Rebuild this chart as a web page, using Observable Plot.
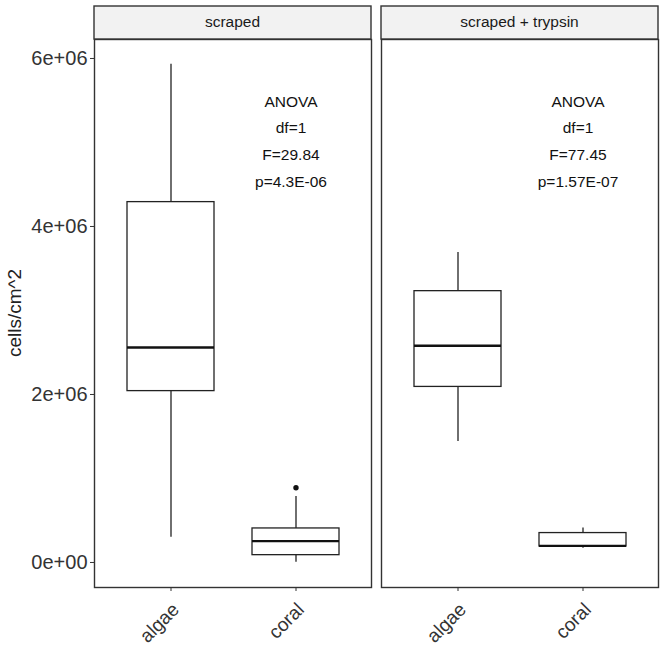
<!DOCTYPE html>
<html>
<head>
<meta charset="utf-8">
<script src="https://cdn.jsdelivr.net/npm/d3@7"></script>
<script src="https://cdn.jsdelivr.net/npm/@observablehq/plot@0.6"></script>
<style>
  body { margin: 0; background: #fff; }
  svg { display: block; }
</style>
</head>
<body>
<div id="chart"></div>
<script>
// ---- data ----
const treatments = ["scraped", "scraped + trypsin"];
const groups = ["algae", "coral"];

const boxTreatment = ["scraped", "scraped", "scraped + trypsin", "scraped + trypsin"];
const boxGroup     = ["algae", "coral", "algae", "coral"];
const whiskerLow   = [0.30e6, 0.004e6, 1.44e6, 0.17e6];
const q1           = [2.04e6, 0.087e6, 2.09e6, 0.19e6];
const median       = [2.56e6, 0.254e6, 2.58e6, 0.198e6];
const q3           = [4.29e6, 0.405e6, 3.23e6, 0.35e6];
const whiskerHigh  = [5.93e6, 0.786e6, 3.69e6, 0.41e6];

const outlierTreatment = ["scraped"];
const outlierGroup     = ["coral"];
const outlierValue     = [0.89e6];

const annotTreatment = ["scraped", "scraped + trypsin"];
const annotGroup     = ["coral", "coral"];
const annotDf        = ["1", "1"];
const annotF         = ["29.84", "77.45"];
const annotP         = ["4.3E-06", "1.57E-07"];

const yTicks      = [0, 2e6, 4e6, 6e6];
const yTickLabels = ["0e+00", "2e+06", "4e+06", "6e+06"];
const yTitle = "cells/cm^2";

// ---- tables built from the arrays ----
const boxes = boxGroup.map((g, i) => ({
  treatment: boxTreatment[i], group: g,
  lo: whiskerLow[i], q1: q1[i], med: median[i], q3: q3[i], hi: whiskerHigh[i]
}));
const outliers = outlierValue.map((v, i) => ({
  treatment: outlierTreatment[i], group: outlierGroup[i], value: v
}));
const annotY = 5.65e6;
const annots = annotTreatment.map((t, i) => ({
  treatment: t, group: annotGroup[i], y: annotY,
  label: `ANOVA\ndf=${annotDf[i]}\nF=${annotF[i]}\np=${annotP[i]}`
}));

const font = "'Liberation Sans', Arial, Helvetica, sans-serif";
const ink = "#222";

const plot = Plot.plot({
  width: 666,
  height: 647,
  marginTop: 39,
  marginBottom: 60,
  marginLeft: 93,
  marginRight: 8,
  style: { fontFamily: font, background: "white", overflow: "visible" },
  fx: { domain: treatments, paddingInner: 0.035, paddingOuter: 0, axis: null, label: null },
  x: { type: "band", domain: groups, paddingInner: 0.304, paddingOuter: 0.252, axis: null, label: null },
  y: { domain: [-0.298e6, 6.226e6], axis: null, label: null },
  marks: [
    Plot.ruleX(boxes, { x: "group", y1: "lo", y2: "q1", fx: "treatment", stroke: ink, strokeWidth: 1.3 }),
    Plot.ruleX(boxes, { x: "group", y1: "q3", y2: "hi", fx: "treatment", stroke: ink, strokeWidth: 1.3 }),
    Plot.barY(boxes, { x: "group", y1: "q1", y2: "q3", fx: "treatment", fill: "white", stroke: ink, strokeWidth: 1.3 }),
    Plot.tickY(boxes, { x: "group", y: "med", fx: "treatment", stroke: "#111", strokeWidth: 2.4 }),
    Plot.dot(outliers, { x: "group", y: "value", fx: "treatment", r: 2.7, fill: "#111", stroke: "none" }),
    Plot.text(annots, {
      x: "group", y: "y", fx: "treatment", text: "label",
      lineAnchor: "top", lineHeight: 1.72, fontSize: 15.5, dx: -5, fill: "#111"
    }),
    Plot.frame({ stroke: "#333", strokeWidth: 1.4 }),
    Plot.axisY(yTicks, {
      tickSize: 4, tickPadding: 3, fontSize: 20, color: "#333",
      tickFormat: d => yTickLabels[yTicks.indexOf(d)], label: null
    }),
    // x tick marks only
    Plot.axisX({ tickSize: 4, tickFormat: () => "", color: "#333", label: null }),
    // rotated x tick labels only
    Plot.axisX({
      tickRotate: -45, tickSize: 0, tickPadding: 8, fontSize: 19, color: "#333", label: null,
      dx: 5, dy: 11
    })
  ]
});

// ---- facet strips and y title ----
const svg = d3.select(plot);
const fx = plot.scale("fx");
for (const t of treatments) {
  const x0 = fx.apply(t);
  const w = fx.bandwidth;
  svg.append("rect")
    .attr("x", x0).attr("y", 6).attr("width", w).attr("height", 33)
    .attr("fill", "#f2f2f2").attr("stroke", "#333").attr("stroke-width", 1.4);
  svg.append("text")
    .attr("x", x0 + w / 2).attr("y", 23)
    .attr("text-anchor", "middle").attr("dominant-baseline", "middle")
    .attr("font-family", font).attr("font-size", 15.5).attr("fill", "#1a1a1a")
    .text(t);
}
svg.append("text")
  .attr("transform", "translate(16,313) rotate(-90)")
  .attr("text-anchor", "middle").attr("dominant-baseline", "middle")
  .attr("font-family", font).attr("font-size", 19).attr("fill", "#222")
  .text(yTitle);

document.getElementById("chart").append(plot);
</script>
</body>
</html>
